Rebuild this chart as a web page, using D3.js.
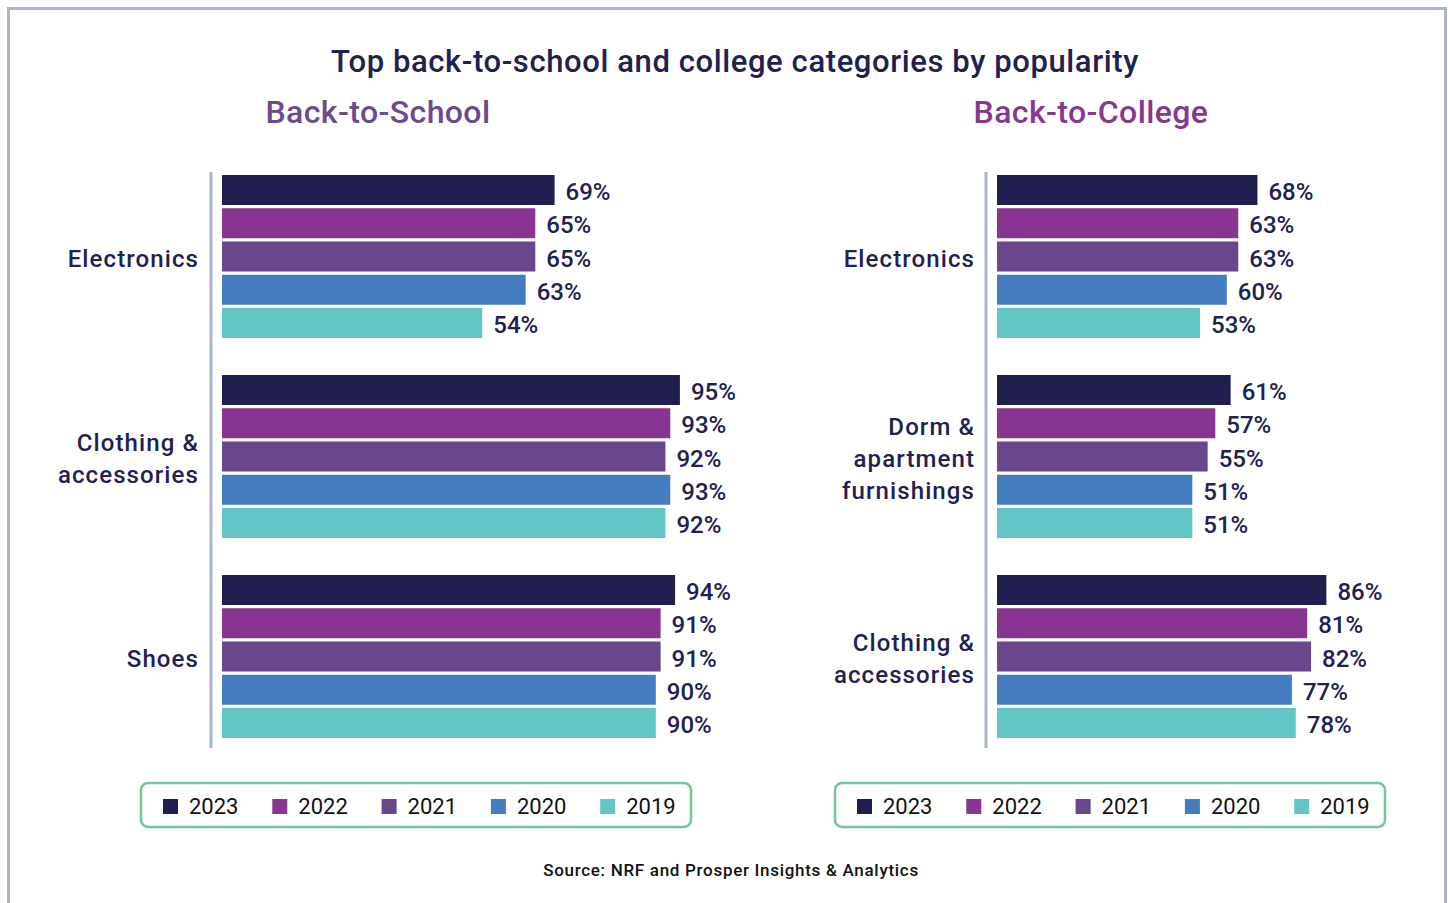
<!DOCTYPE html>
<html>
<head>
<meta charset="utf-8">
<script src="https://cdn.jsdelivr.net/npm/d3@7"></script>
<style>
  html, body { margin: 0; padding: 0; background: #ffffff; }
  svg { display: block; font-family: Roboto, "DejaVu Sans", sans-serif; }
</style>
</head>
<body>
<svg id="chart" width="1448" height="903"></svg>
<script>
// Survey years, newest first (one bar per year in each category group)
const years = ["2023", "2022", "2021", "2020", "2019"];
const yearColors = ["#201e4e", "#873590", "#69478c", "#437cbf", "#63c6c6"];

// Back-to-School
const schoolCategories = ["Electronics", "Clothing & accessories", "Shoes"];
const schoolLabelLines = [["Electronics"], ["Clothing &", "accessories"], ["Shoes"]];
const school2023 = [69, 95, 94];
const school2022 = [65, 93, 91];
const school2021 = [65, 92, 91];
const school2020 = [63, 93, 90];
const school2019 = [54, 92, 90];

// Back-to-College
const collegeCategories = ["Electronics", "Dorm & apartment furnishings", "Clothing & accessories"];
const collegeLabelLines = [["Electronics"], ["Dorm &", "apartment", "furnishings"], ["Clothing &", "accessories"]];
const college2023 = [68, 61, 86];
const college2022 = [63, 57, 81];
const college2021 = [63, 55, 82];
const college2020 = [60, 51, 77];
const college2019 = [53, 51, 78];

const svg = d3.select("#chart");
const ink = "#1f2150";
const frameColor = "#a9b7cf";

// Outer frame (open at the bottom)
svg.append("path")
  .attr("d", "M8.5,903 V8.5 H1445.5 V903")
  .attr("fill", "none")
  .attr("stroke", frameColor)
  .attr("stroke-width", 3);

// Titles
svg.append("text")
  .attr("x", 735).attr("y", 72)
  .attr("text-anchor", "middle")
  .attr("font-size", 31).attr("font-weight", 500)
  .attr("letter-spacing", 0.6)
  .attr("fill", ink)
  .text("Top back-to-school and college categories by popularity");

function drawPanel(cfg) {
  const g = svg.append("g");

  g.append("text")
    .attr("x", cfg.titleX).attr("y", 123)
    .attr("text-anchor", "middle")
    .attr("font-size", 32).attr("font-weight", 500)
    .attr("letter-spacing", 0.4)
    .attr("fill", cfg.titleColor)
    .text(cfg.title);

  const x = d3.scaleLinear().domain([0, 100]).range([cfg.x0, cfg.x0 + cfg.width]);
  const y = d3.scaleBand().domain(cfg.categories)
    .range([156.5, 756.5]).paddingInner(0.185).paddingOuter(0.0925);
  const yInner = d3.scaleBand().domain(years)
    .range([0, y.bandwidth()]).paddingInner(0.0977).paddingOuter(0);

  const rows = [];
  cfg.categories.forEach((c, i) => {
    years.forEach((yr, j) => {
      rows.push({ cat: c, year: yr, value: cfg.series[j][i], color: yearColors[j] });
    });
  });

  // Vertical baseline
  g.append("line")
    .attr("x1", cfg.axisX).attr("x2", cfg.axisX)
    .attr("y1", 172).attr("y2", 748)
    .attr("stroke", frameColor).attr("stroke-width", 3);

  g.selectAll("rect.bar").data(rows).join("rect")
    .attr("class", "bar")
    .attr("x", x(0))
    .attr("y", d => y(d.cat) + yInner(d.year))
    .attr("width", d => x(d.value) - x(0))
    .attr("height", yInner.bandwidth())
    .attr("fill", d => d.color);

  g.selectAll("text.val").data(rows).join("text")
    .attr("class", "val")
    .attr("x", d => x(d.value) + 11)
    .attr("y", d => y(d.cat) + yInner(d.year) + yInner.bandwidth() / 2)
    .attr("dy", "0.42em")
    .attr("font-size", 24).attr("font-weight", 500)
    .attr("fill", ink)
    .text(d => d.value + "%");

  // Category labels, multi-line, centred on each group
  cfg.categories.forEach((c, i) => {
    const lines = cfg.labelLines[i];
    const cy = y(c) + y.bandwidth() / 2;
    const lh = 32;
    const t = g.append("text")
      .attr("text-anchor", "end")
      .attr("font-size", 24).attr("font-weight", 500)
      .attr("letter-spacing", 1.1)
      .attr("fill", ink);
    lines.forEach((ln, k) => {
      t.append("tspan")
        .attr("x", cfg.labelX)
        .attr("y", cy + (k - (lines.length - 1) / 2) * lh)
        .attr("dy", "0.42em")
        .text(ln);
    });
  });

  // Legend
  const lg = g.append("g").attr("transform", `translate(${cfg.legendX},783)`);
  lg.append("rect")
    .attr("x", 0).attr("y", 0).attr("width", 550).attr("height", 44)
    .attr("rx", 7).attr("fill", "#ffffff")
    .attr("stroke", "#72c69a").attr("stroke-width", 2.5);
  const item = lg.selectAll("g.item").data(years).join("g")
    .attr("class", "item")
    .attr("transform", (d, i) => `translate(${22 + i * 109.3},0)`);
  item.append("rect")
    .attr("x", 0).attr("y", 16).attr("width", 15).attr("height", 15)
    .attr("fill", (d, i) => yearColors[i]);
  item.append("text")
    .attr("x", 26).attr("y", 23.5).attr("dy", "0.36em")
    .attr("font-size", 22).attr("fill", "#111111")
    .text(d => d);
}

drawPanel({
  title: "Back-to-School", titleX: 378, titleColor: "#6b4a90",
  categories: schoolCategories, labelLines: schoolLabelLines,
  series: [school2023, school2022, school2021, school2020, school2019],
  x0: 222, width: 482, axisX: 211, labelX: 199, legendX: 141
});

drawPanel({
  title: "Back-to-College", titleX: 1091, titleColor: "#86388f",
  categories: collegeCategories, labelLines: collegeLabelLines,
  series: [college2023, college2022, college2021, college2020, college2019],
  x0: 997, width: 383, axisX: 986, labelX: 975, legendX: 835
});

// Source note
svg.append("text")
  .attr("x", 731).attr("y", 876)
  .attr("text-anchor", "middle")
  .attr("font-size", 17).attr("font-weight", 500)
  .attr("letter-spacing", 0.7)
  .attr("fill", "#111111")
  .text("Source: NRF and Prosper Insights & Analytics");
</script>
</body>
</html>
